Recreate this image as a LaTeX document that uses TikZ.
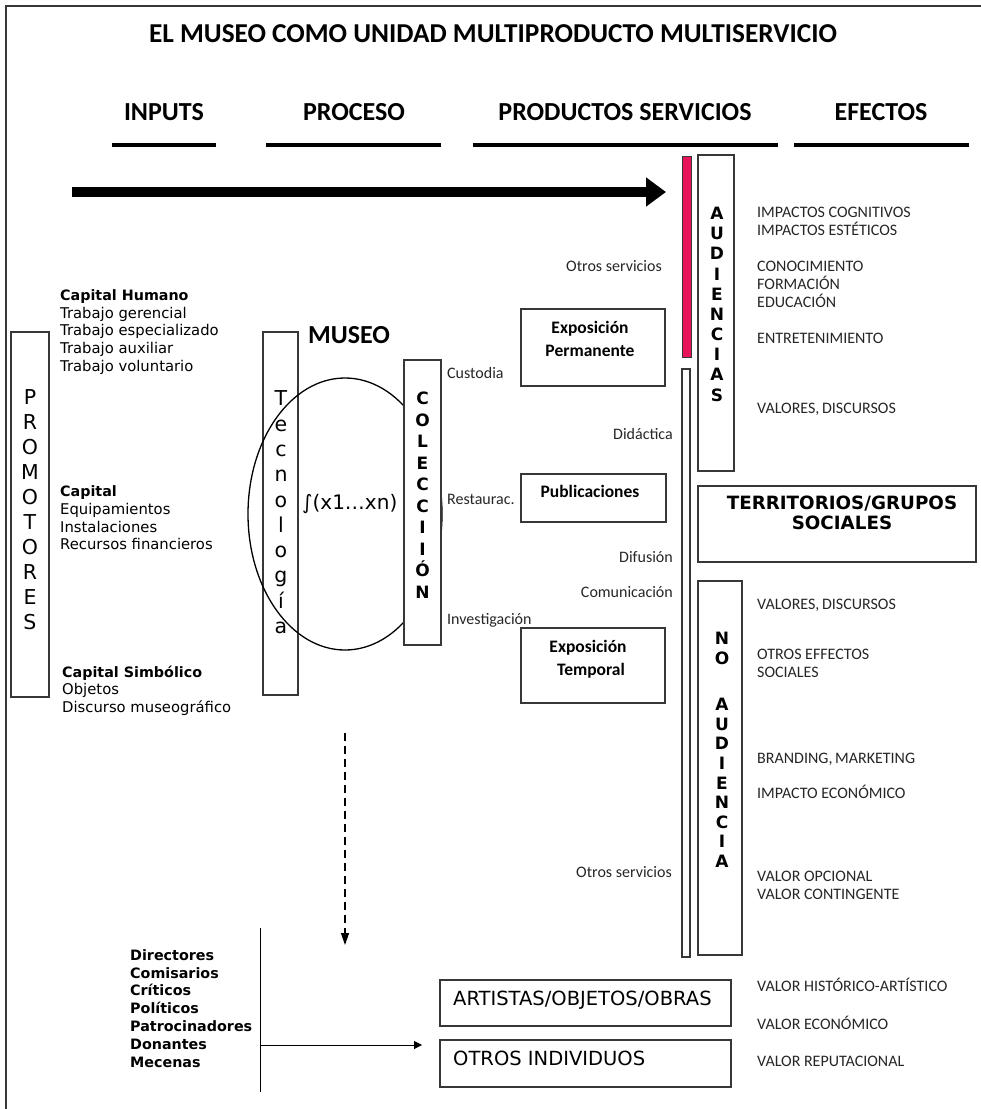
\documentclass[tikz,border=0pt]{standalone}
\usepackage{fontspec}
\setmainfont{Carlito}
\newfontfamily\verd{DejaVu Sans}
\usetikzlibrary{arrows.meta}
\definecolor{pinkbar}{RGB}{232,20,90}
\definecolor{lineg}{RGB}{55,55,55}
\begin{document}
\begin{tikzpicture}[x=1pt,y=-1pt,
    every node/.style={inner sep=0pt},
    box/.style={draw=lineg,line width=1.1pt,fill=white},
    head/.style={font=\fontsize{26}{30}\selectfont\bfseries,anchor=base},
    cal/.style={font=\fontsize{16}{18}\selectfont,anchor=base west,text=black!85},
    calr/.style={cal,anchor=base east},
    calb/.style={font=\fontsize{17.5}{23}\selectfont\bfseries,anchor=base},
    ver/.style={font=\verd\fontsize{14.8}{17.8}\selectfont,anchor=base west},
    verb/.style={font=\verd\bfseries\fontsize{14.3}{17.8}\selectfont,anchor=base west},
    stack/.style={align=center,anchor=north}]
    \useasboundingbox (0,0) rectangle (981,1109);
    \draw[lineg,line width=2pt] (6,1109) -- (6,6) -- (981,6);
    % titulo y columnas
    \node[head,font=\fontsize{27.3}{30}\selectfont\bfseries] (titulo) at (493,42.6) {EL MUSEO COMO UNIDAD MULTIPRODUCTO MULTISERVICIO};
    \node[head] (inputs) at (164,120.4) {INPUTS};
    \node[head] (proceso) at (354,120.4) {PROCESO};
    \node[head] (productos) at (625,120.4) {PRODUCTOS SERVICIOS};
    \node[head] (efectos) at (881,120.4) {EFECTOS};
    \draw[line width=3.5pt] (112,145) -- (216,145);
    \draw[line width=3.5pt] (266,145) -- (441,145);
    \draw[line width=3.5pt] (473,145) -- (778,145);
    \draw[line width=3.5pt] (794,145) -- (969,145);
    \coordinate (flujo0) at (72,192);
    \coordinate (flujo1) at (666,192);
    \draw[line width=10pt,-{Triangle[length=20pt,width=28pt]}] (flujo0) -- (flujo1);
    % inputs
    \node[box,minimum width=38,minimum height=365] (promotores) at (30,514.5) {};
    \node[stack,font=\verd\fontsize{20.5}{25}\selectfont] (promlet) at (30,389.5) {P\\R\\O\\M\\O\\T\\O\\R\\E\\S};
    \node[verb] (humano) at (60,300.3) {Capital Humano};
    \node[ver] (trab1) at (60,318.1) {Trabajo gerencial};
    \node[ver] (trab2) at (60,335.9) {Trabajo especializado};
    \node[ver] (trab3) at (60,353.7) {Trabajo auxiliar};
    \node[ver] (trab4) at (60,371.5) {Trabajo voluntario};
    \node[verb] (capital) at (60,496.5) {Capital};
    \node[ver] (cap1) at (60,514.3) {Equipamientos};
    \node[ver] (cap2) at (60,532.1) {Instalaciones};
    \node[ver] (cap3) at (60,549.9) {Recursos financieros};
    \node[verb] (simbolico) at (62,677) {Capital Simbólico};
    \node[ver] (simb1) at (62,694.8) {Objetos};
    \node[ver] (simb2) at (62,712.6) {Discurso museográfico};
    % proceso
    \node[box,minimum width=35,minimum height=363] (tecno) at (280.5,513.5) {};
    \node[stack,font=\verd\fontsize{20.5}{25.3}\selectfont] (tecnolet) at (281,390.7) {T\\e\\c\\n\\o\\l\\o\\g\\í\\a};
    \draw[line width=1.3pt] (345,514) ellipse [x radius=97,y radius=136];
    \node[font=\fontsize{26}{30}\selectfont\bfseries,anchor=base west] (museo) at (308,343.4) {MUSEO};
    \node[font=\verd\fontsize{20}{24}\selectfont,anchor=base west] (funcion) at (302,509) {∫(x1…xn)};
    \node[box,minimum width=37,minimum height=285] (coleccion) at (422.5,502.5) {};
    \node[stack,font=\verd\bfseries\fontsize{17}{21.5}\selectfont] (colelet) at (422.5,391.8) {C\\O\\L\\E\\C\\C\\I\\I\\Ó\\N};
    \node[cal] (custodia) at (447,378) {Custodia};
    \node[cal] (restaurac) at (447,504) {Restaurac.};
    \node[cal] (investig) at (447,624) {Investigación};
    % productos servicios
    \node[box,minimum width=144,minimum height=77] (expperm) at (593,347.5) {};
    \node[calb] (expperm1) at (590,333.6) {Exposición};
    \node[calb] (expperm2) at (590,356.6) {Permanente};
    \node[box,minimum width=145,minimum height=48] (public) at (593.5,498) {};
    \node[calb] (public1) at (590,497.6) {Publicaciones};
    \node[box,minimum width=144,minimum height=75] (exptemp) at (593,665.5) {};
    \node[calb] (exptemp1) at (588,652.6) {Exposición};
    \node[calb] (exptemp2) at (591,675.6) {Temporal};
    \node[calr] (otros1) at (662,271) {Otros servicios};
    \node[calr] (didactica) at (673,439) {Didáctica};
    \node[calr] (difusion) at (673,562) {Difusión};
    \node[calr] (comunic) at (673,597) {Comunicación};
    \node[calr] (otros2) at (672,877) {Otros servicios};
    \node[draw=lineg,line width=1pt,fill=pinkbar,minimum width=9,minimum height=201] (rosa) at (686.5,256.5) {};
    \node[box,minimum width=8,minimum height=588] (barra) at (686,663) {};
    % efectos
    \node[box,minimum width=36,minimum height=316] (audiencias) at (716,313) {};
    \node[stack,font=\verd\bfseries\fontsize{17}{20.2}\selectfont] (audlet) at (717,206.8) {A\\U\\D\\I\\E\\N\\C\\I\\A\\S};
    \node[box,minimum width=278,minimum height=76] (territorios) at (837,524) {};
    \node[font=\verd\bfseries\fontsize{18.3}{20}\selectfont,anchor=base] (terr1) at (842,509.7) {TERRITORIOS/GRUPOS};
    \node[font=\verd\bfseries\fontsize{18.3}{20}\selectfont,anchor=base] (terr2) at (842,529.7) {SOCIALES};
    \node[box,minimum width=44,minimum height=374] (noaud) at (720,768) {};
    \node[stack,font=\verd\bfseries\fontsize{17}{19.6}\selectfont] (noaudlet) at (722,631.8) {N\\O\\[27pt]A\\U\\D\\I\\E\\N\\C\\I\\A};
    \node[cal] (ef1) at (757,217) {IMPACTOS COGNITIVOS};
    \node[cal] (ef2) at (757,235) {IMPACTOS ESTÉTICOS};
    \node[cal] (ef3) at (757,271) {CONOCIMIENTO};
    \node[cal] (ef4) at (757,289) {FORMACIÓN};
    \node[cal] (ef5) at (757,307) {EDUCACIÓN};
    \node[cal] (ef6) at (757,343) {ENTRETENIMIENTO};
    \node[cal] (ef7) at (757,413) {VALORES,\,DISCURSOS};
    \node[cal] (ef8) at (757,609) {VALORES,\,DISCURSOS};
    \node[cal] (ef9) at (757,659) {OTROS EFFECTOS};
    \node[cal] (ef10) at (757,677) {SOCIALES};
    \node[cal] (ef11) at (757,763) {BRANDING,\,MARKETING};
    \node[cal] (ef12) at (757,798) {IMPACTO ECONÓMICO};
    \node[cal] (ef13) at (757,881) {VALOR OPCIONAL};
    \node[cal] (ef14) at (757,899) {VALOR CONTINGENTE};
    \node[cal] (ef15) at (757,991) {VALOR HISTÓRICO-ARTÍSTICO};
    \node[cal] (ef16) at (757,1029) {VALOR ECONÓMICO};
    \node[cal] (ef17) at (757,1066) {VALOR REPUTACIONAL};
    % agentes
    \coordinate (baja0) at (345,733);
    \coordinate (baja1) at (345,945);
    \draw[line width=1.3pt,dash pattern=on 8pt off 5pt,-{Triangle[length=12pt,width=8pt]}] (baja0) -- (baja1);
    \coordinate (agtop) at (260,928);
    \coordinate (agbot) at (260,1092);
    \coordinate (agmid) at (261,1045);
    \coordinate (agfin) at (422,1045);
    \draw[line width=1pt] (agtop) -- (agbot);
    \draw[line width=1pt,-{Triangle[length=8pt,width=8pt]}] (agmid) -- (agfin);
    \node[verb] (ag1) at (130,960.2) {Directores};
    \node[verb] (ag2) at (130,978) {Comisarios};
    \node[verb] (ag3) at (130,995.8) {Críticos};
    \node[verb] (ag4) at (130,1013.6) {Políticos};
    \node[verb] (ag5) at (130,1031.4) {Patrocinadores};
    \node[verb] (ag6) at (130,1049.2) {Donantes};
    \node[verb] (ag7) at (130,1067) {Mecenas};
    \node[box,minimum width=291,minimum height=46] (artistas) at (585.5,1003) {};
    \node[font=\verd\fontsize{19.5}{22}\selectfont,anchor=base west] (artistas1) at (453,1005) {ARTISTAS/OBJETOS/OBRAS};
    \node[box,minimum width=291,minimum height=47] (otrosind) at (585.5,1063.5) {};
    \node[font=\verd\fontsize{19.5}{22}\selectfont,anchor=base west] (otrosind1) at (453,1065) {OTROS INDIVIDUOS};
\end{tikzpicture}
\end{document}
